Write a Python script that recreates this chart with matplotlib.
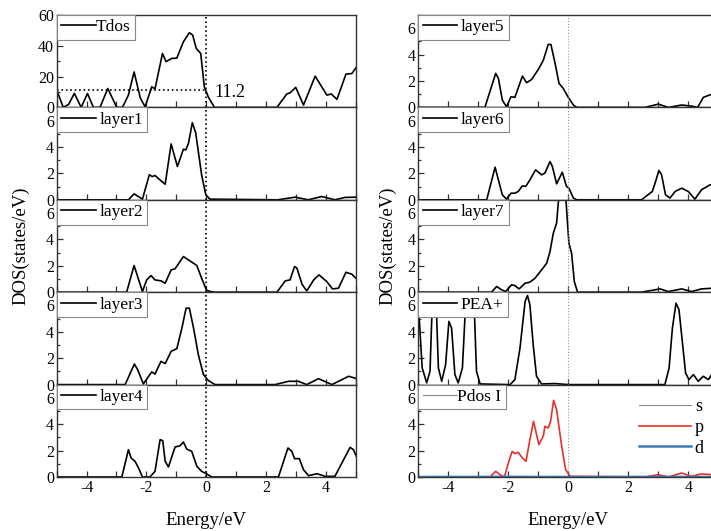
# DOS panels: total DOS, layer-resolved DOS, PEA+ and I p-states

import matplotlib
matplotlib.use('Agg')
import matplotlib.pyplot as plt
from matplotlib.lines import Line2D
from matplotlib.ticker import MultipleLocator

plt.rcParams['font.family'] = ['Liberation Serif', 'DejaVu Serif']
plt.rcParams['axes.unicode_minus'] = False

# values (energy in eV, DOS in states/eV)
tdos_e = [-5, -4.78, -4.6, -4.41, -4.18, -3.97, -3.77, -3.55, -3.29, -2.99, -2.8, -2.6, -2.41,
          -2.2, -2.04, -1.82, -1.71, -1.46, -1.34, -1.15, -0.98, -0.76, -0.56, -0.45, -0.33,
          -0.18, -0.06, 0.08, 0.28, 2.37, 2.7, 2.81, 3.0, 3.26, 3.65, 4.04, 4.19, 4.38, 4.68, 4.88, 5.04]
tdos_y = [11.3, 0, 2, 9.1, 0, 9, 0, 0, 12.3, 0, 0, 8, 23,
          6, 0.4, 13.4, 12, 35, 29.7, 31.8, 32, 42.6, 48.5, 47, 38.3,
          35, 13.4, 6.5, 0, 0, 8.7, 9.5, 13, 1.5, 20.3, 8, 8.7, 5.2, 21.6, 22, 26.4]

layer1_e = [-5, -2.6, -2.41, -2.13, -1.9, -1.8, -1.71, -1.54, -1.37, -1.17, -0.96, -0.76, -0.68,
            -0.59, -0.46, -0.35, -0.15, -0.01, 0.13, 2.4, 2.98, 3.42, 3.87, 4.31, 4.65, 5.04]
layer1_y = [0, 0, 0.45, 0.05, 1.9, 1.76, 1.84, 1.5, 1.18, 4.23, 2.52, 3.83, 3.78,
            4.28, 5.84, 5.09, 1.89, 0.38, 0.05, 0, 0.2, 0, 0.25, 0, 0.18, 0.2]

layer2_e = [-5, -2.66, -2.41, -2.13, -1.99, -1.84, -1.71, -1.51, -1.37, -1.17, -1.04, -0.76,
            -0.54, -0.31, -0.15, 0.02, 0.25, 2.37, 2.65, 2.81, 2.96, 3.04, 3.21, 3.37, 3.6,
            3.78, 4.04, 4.23, 4.43, 4.68, 4.88, 5.04]
layer2_y = [0, 0, 2.02, 0.05, 0.93, 1.26, 0.93, 0.86, 0.68, 1.69, 1.77, 2.7,
            2.37, 2.02, 1.06, 0.13, 0, 0, 0.86, 0.93, 1.94, 1.82, 0.6, 0.1, 0.93,
            1.31, 0.8, 0.25, 0.3, 1.51, 1.36, 1.0]

layer3_e = [-5, -2.71, -2.4, -2.29, -2.1, -1.82, -1.71, -1.51, -1.37, -1.17, -0.98, -0.81,
            -0.67, -0.56, -0.42, -0.26, -0.09, 0.08, 0.3, 2.31, 2.76, 3.09, 3.37, 3.76,
            4.21, 4.77, 5.04]
layer3_y = [0, 0, 1.56, 1.13, 0.05, 0.96, 0.8, 1.76, 1.59, 2.52, 2.72, 4.28,
            5.79, 5.79, 4.28, 2.27, 0.76, 0.3, 0, 0, 0.25, 0.25, 0, 0.45,
            0, 0.63, 0.45]

layer4_e = [-5, -2.82, -2.6, -2.51, -2.38, -2.26, -2.13, -1.88, -1.71, -1.54, -1.45, -1.37,
            -1.26, -1.04, -0.87, -0.76, -0.65, -0.48, -0.31, -0.15, 0.02, 0.19, 2.42, 2.74,
            2.87, 2.96, 3.12, 3.26, 3.43, 3.71, 3.98, 4.31, 4.82, 4.93, 5.04]
layer4_y = [0, 0, 2.07, 1.44, 1.19, 0.68, 0, 0, 0.43, 2.83, 2.75, 1.19,
            0.76, 2.27, 2.37, 2.65, 2.12, 1.94, 0.81, 0.43, 0.23, 0, 0, 2.2,
            1.94, 1.39, 1.39, 0.55, 0.1, 0.25, 0.05, 0.05, 2.25, 2.07, 1.5]

layer5_e = [-5, -2.78, -2.42, -2.33, -2.2, -2.06, -1.91, -1.78, -1.53, -1.39, -1.22, -0.98,
            -0.83, -0.67, -0.58, -0.44, -0.31, -0.17, 0, 0.17, 0.28, 2.56, 3.0, 3.33,
            3.78, 4.11, 4.31, 4.5, 4.78, 5.0]
layer5_y = [0, 0, 2.58, 2.2, 0.56, 0.05, 0.81, 0.76, 2.37, 1.87, 2.12, 2.95,
            3.59, 4.77, 4.77, 3.33, 1.82, 1.44, 0.76, 0.18, 0, 0, 0.25, 0,
            0.18, 0.1, 0, 0.76, 1.0, 1.0]

layer6_e = [-5, -2.72, -2.44, -2.33, -2.2, -2.06, -1.91, -1.78, -1.67, -1.53, -1.42, -1.28,
            -1.09, -0.89, -0.78, -0.61, -0.53, -0.39, -0.2, -0.06, 0.02, 0.17, 0.28, 2.44,
            2.8, 2.91, 3.02, 3.11, 3.24, 3.39, 3.56, 3.78, 4.0, 4.22, 4.44, 4.72, 5.0]
layer6_y = [0, 0, 2.47, 1.51, 0.38, 0.05, 0.5, 0.5, 0.63, 1.06, 1.01, 1.51,
            2.27, 1.89, 2.02, 2.9, 2.52, 1.21, 2.09, 1.01, 0.88, 0.13, 0, 0,
            0.63, 1.39, 2.22, 1.89, 0.38, 0.13, 0.63, 0.88, 0.63, 0.05, 0.76, 1.13, 1.2]

layer7_e = [-5, -2.56, -2.39, -2.22, -2.09, -1.89, -1.78, -1.64, -1.44, -1.28, -1.11, -0.89,
            -0.72, -0.61, -0.5, -0.39, -0.31, -0.2, -0.09, 0.02, 0.11, 0.2, 0.31, 2.44,
            3.06, 3.33, 3.78, 4.11, 4.44, 4.78, 5.0]
layer7_y = [0, 0, 0.43, 0.18, 0.05, 0.56, 0.5, 0.25, 0.68, 0.76, 1.06, 1.69,
            2.2, 3.08, 4.47, 5.23, 7.4, 8.6, 7.4, 3.71, 2.95, 0.81, 0, 0,
            0.25, 0.05, 0.25, 0.05, 0.25, 0.3, 0.3]

pea_e = [-5, -4.98, -4.87, -4.72, -4.61, -4.5, -4.44, -4.33, -4.22, -4.09, -3.98, -3.89,
         -3.78, -3.67, -3.53, -3.38, -3.17, -3.06, -2.94, -1.94, -1.78, -1.61, -1.44, -1.36,
         -1.28, -1.17, -1.06, -0.89, -0.44, 0, 3.22, 3.36, 3.47, 3.59, 3.69, 3.8, 3.91,
         4.02, 4.17, 4.33, 4.5, 4.67, 4.78, 5.0]
pea_y = [5.6, 5.42, 1.26, 0.13, 1.01, 8.5, 8.5, 1.26, 0.25, 1.51, 4.79, 4.28,
         0.76, 0.13, 1.26, 8.0, 8.0, 1.0, 0.05, 0, 0.38, 2.77, 6.3, 6.75,
         6.05, 3.02, 0.63, 0.05, 0.08, 0, 0, 1.26, 4.28, 6.17, 5.67, 3.27, 0.88,
         0.38, 0.76, 0.25, 0.63, 0.38, 0.76, 0.6]

ip_e = [-5, -2.61, -2.42, -2.28, -2.13, -2.0, -1.87, -1.78, -1.67, -1.53, -1.41, -1.28,
        -1.16, -0.98, -0.83, -0.78, -0.67, -0.59, -0.49, -0.39, -0.22, -0.09, 0.06, 2.56,
        3.0, 3.33, 3.78, 4.11, 4.44, 4.78, 5.0]
ip_y = [0, 0, 0.43, 0.18, 0, 1.06, 1.94, 1.77, 1.87, 1.44, 1.19, 2.83,
        4.22, 2.45, 3.13, 3.84, 3.71, 4.22, 5.81, 5.1, 2.32, 0.56, 0.05, 0,
        0.18, 0, 0.3, 0.05, 0.23, 0.18, 0.2]
is_e = [-5, -2.5, -2.0, 0, 2.5, 5.0]
is_y = [0, 0.01, 0.02, 0, 0.01, 0.01]
id_e = [-5, -2.0, 0, 3.0, 5.0]
id_y = [0, 0.01, 0, 0.01, 0]

left_panels = [('Tdos', tdos_e, tdos_y), ('layer1', layer1_e, layer1_y),
               ('layer2', layer2_e, layer2_y), ('layer3', layer3_e, layer3_y),
               ('layer4', layer4_e, layer4_y)]
right_panels = [('layer5', layer5_e, layer5_y), ('layer6', layer6_e, layer6_y),
                ('layer7', layer7_e, layer7_y), ('PEA+', pea_e, pea_y)]

W, H = 711, 531
fig = plt.figure(figsize=(W / 100, H / 100), dpi=100)

top_px = 15.0
panel_px = 92.4


def make_axes(x0_px, x1_px, row):
    y_top = top_px + row * panel_px
    return fig.add_axes([x0_px / W, 1 - (y_top + panel_px) / H,
                         (x1_px - x0_px) / W, panel_px / H])


def style_axes(ax, ymax=7, major=2, minor=1, show_x=False):
    ax.set_xlim(-5, 5)
    ax.set_ylim(0, ymax)
    ax.xaxis.set_major_locator(MultipleLocator(2))
    ax.xaxis.set_minor_locator(MultipleLocator(1))
    ax.yaxis.set_major_locator(MultipleLocator(major))
    ax.yaxis.set_minor_locator(MultipleLocator(minor))
    ax.tick_params(axis='both', which='both', direction='in', top=False, right=False,
                   labelsize=11.5, pad=2, width=0.9, color='#333333')
    ax.tick_params(axis='x', which='both', length=4)
    ax.tick_params(axis='y', which='major', length=4)
    ax.tick_params(axis='y', which='minor', length=2.5)
    if not show_x:
        ax.tick_params(axis='x', labelbottom=False)
    for s in ax.spines.values():
        s.set_linewidth(1.0)
        s.set_color('#333333')


def add_label_legend(ax, name, color='black', lw=1.2, hl=2.0, pad=0.2):
    h = Line2D([], [], color=color, lw=lw)
    leg = ax.legend([h], [name], loc='upper left', borderaxespad=0, fancybox=False,
                    edgecolor='#888888', framealpha=1, fontsize=12.5, handlelength=hl,
                    handletextpad=pad, borderpad=0.25)
    leg.get_frame().set_linewidth(0.8)
    return leg


# left column
for i, (name, e, y) in enumerate(left_panels):
    ax = make_axes(56.7, 355.5, i)
    ax.plot(e, y, color='black', lw=1.2)
    ax.axvline(0, color='black', ls=':', lw=1.2)
    if name == 'Tdos':
        style_axes(ax, ymax=60, major=20, minor=10)
        ax.plot([-5, 0], [11.2, 11.2], color='black', ls=':', lw=1.2)
        ax.text(0.28, 9.5, '11.2', fontsize=13, va='center', ha='left')
        add_label_legend(ax, name, hl=2.0, pad=0.0)
    else:
        style_axes(ax, show_x=(i == len(left_panels) - 1))
        add_label_legend(ax, name)
    if i == len(left_panels) - 1:
        ax.set_xlabel('Energy/eV', fontsize=13.5, labelpad=12)

# right column
for i, (name, e, y) in enumerate(right_panels):
    ax = make_axes(418.3, 718.3, i)
    ax.plot(e, y, color='black', lw=1.2)
    ax.axvline(0, color='#999999', ls=':', lw=0.8)
    style_axes(ax)
    add_label_legend(ax, name)

ax = make_axes(418.3, 718.3, 4)
ax.axvline(0, color='#999999', ls=':', lw=0.8)
l_s, = ax.plot(is_e, is_y, color='#8c8c8c', lw=0.8, label='s')
l_p, = ax.plot(ip_e, ip_y, color='#e8302a', lw=1.2, label='p')
l_d, = ax.plot(id_e, id_y, color='#3d7ab8', lw=1.8, label='d')
style_axes(ax, show_x=True)
ax.set_xlabel('Energy/eV', fontsize=13.5, labelpad=12)
leg1 = add_label_legend(ax, 'Pdos I', color='#8c8c8c', lw=0.8, hl=2.0, pad=0.0)
ax.add_artist(leg1)
ax.legend(handles=[l_s, l_p, l_d], loc='center left', bbox_to_anchor=(0.735, 0.535),
          frameon=False, fontsize=13, handlelength=2.9, handletextpad=0.2,
          labelspacing=0.2, borderpad=0, borderaxespad=0)

mid = 1 - (top_px + 2.5 * panel_px) / H
fig.text(0.017, mid, 'DOS(states/eV)', rotation=90, va='center', ha='left', fontsize=13.5)
fig.text(0.533, mid, 'DOS(states/eV)', rotation=90, va='center', ha='left', fontsize=13.5)

fig.savefig('out.png', dpi=100)
